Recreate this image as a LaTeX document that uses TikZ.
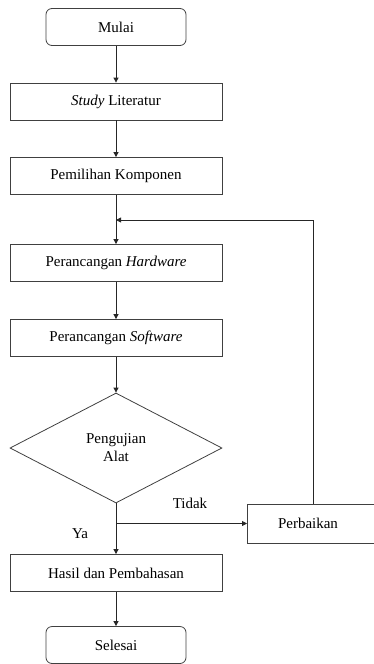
\documentclass[tikz,border=0pt]{standalone}
\usepackage{fontspec}
\setmainfont{Liberation Serif}
\usetikzlibrary{shapes.geometric,arrows.meta}
\begin{document}
\begin{tikzpicture}[x=1pt,y=-1pt,
  font=\fontsize{15}{17}\selectfont,
  line width=0.8pt,
  proc/.style={draw=black!75, rectangle, minimum width=212pt, minimum height=37pt, inner sep=0pt},
  term/.style={draw=black!75, rectangle, rounded corners=6pt, minimum width=140pt, minimum height=37pt, inner sep=0pt},
  dec/.style={draw=black!75, diamond, minimum width=212pt, minimum height=110pt, inner sep=0pt, align=center, font=\fontsize{15}{18}\selectfont},
  arr/.style={draw=black!85, -{Triangle[length=5pt,width=5pt]}},
  lbl/.style={inner sep=0pt}]
\useasboundingbox (0,0) rectangle (374,664);
\node[term] (mulai) at (116,27) {Mulai};
\node[proc] (study) at (116,101.5) {\textit{Study} Literatur};
\node[proc] (pilih) at (116,176) {Pemilihan Komponen};
\node[proc] (hard) at (116,263) {Perancangan \textit{Hardware}};
\node[proc] (soft) at (116,338) {Perancangan \textit{Software}};
\node[dec] (uji) at (116,448) {Pengujian\\Alat};
\node[draw=black!75, rectangle, minimum width=132pt, minimum height=39pt, inner sep=0pt, anchor=west] (perb) at (247,523.5) {};
\node (perbtxt) at (308,523.5) {Perbaikan};
\node[proc] (hasil) at (116,573) {Hasil dan Pembahasan};
\node[term] (selesai) at (116,645) {Selesai};
\coordinate (join) at (116,220);
\coordinate (split) at (116,523.5);
\coordinate (fbtop) at (313,220);
\node[lbl] (tidak) at (190,503) {Tidak};
\node[lbl] (ya) at (80,534) {Ya};
\draw[arr] (mulai) -- (study);
\draw[arr] (study) -- (pilih);
\draw[arr] (pilih) -- (hard);
\draw[arr] (hard) -- (soft);
\draw[arr] (soft) -- (uji);
\draw[arr] (uji) -- (hasil);
\draw[arr] (split) -- (perb.west);
\draw[arr] (perb.north -| fbtop) -- (fbtop) -- (join);
\draw[arr] (hasil) -- (selesai);
\end{tikzpicture}
\end{document}
